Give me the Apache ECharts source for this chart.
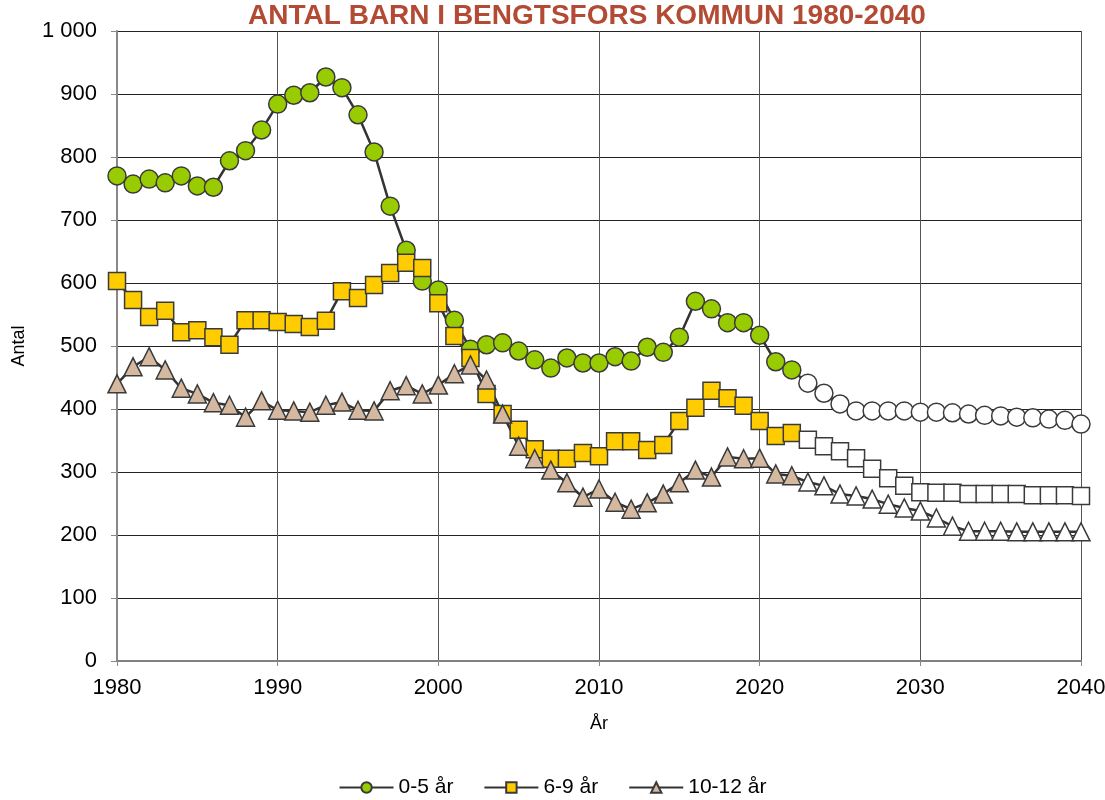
<!DOCTYPE html>
<html>
<head>
<meta charset="utf-8">
<script src="https://cdn.jsdelivr.net/npm/echarts@6/dist/echarts.min.js"></script>
<style>
  html, body { margin: 0; padding: 0; background: #fff; }
  #chart { width: 1105px; height: 800px; }
</style>
</head>
<body>
<div id="chart"></div>
<script>
  // år 1980-2040
  var years = [];
  for (var y = 1980; y <= 2040; y++) years.push(y);
  // första prognosår (ofyllda markörer)
  var prognosStart = 2023;

  var barn0_5 = [770, 757, 765, 759, 770, 754, 752, 794, 810, 843,
    884, 898, 902, 927, 910, 867, 808, 722, 652, 603,
    589, 541, 495, 502, 505, 492, 478, 465, 481, 473,
    473, 483, 476, 498, 490, 514, 571, 559, 537, 537,
    517, 475, 462, 441, 425, 408, 397, 397, 397, 397,
    395, 395, 394, 392, 390, 389, 387, 386, 384, 382, 376];

  var barn6_9 = [603, 573, 546, 556, 522, 525, 514, 502, 541, 541,
    538, 535, 530, 540, 587, 576, 597, 616, 632, 624,
    568, 516, 481, 424, 392, 367, 336, 321, 321, 330,
    325, 349, 349, 335, 343, 381, 402, 429, 417, 405,
    381, 357, 362, 351, 341, 333, 322, 305, 290, 278,
    268, 267, 267, 265, 265, 265, 265, 263, 263, 263, 262];

  var barn10_12 = [440, 467, 483, 462, 433, 424, 410, 406, 387, 413,
    398, 397, 395, 406, 411, 398, 397, 429, 437, 424,
    438, 456, 470, 446, 392, 341, 321, 303, 283, 260,
    273, 252, 241, 251, 265, 283, 303, 292, 324, 321,
    322, 297, 294, 284, 278, 265, 262, 257, 249, 243,
    238, 227, 214, 206, 206, 206, 205, 205, 205, 205, 205];

  var yTicks = [0, 100, 200, 300, 400, 500, 600, 700, 800, 900, 1000];

  function toPoints(values) {
    return values.map(function (v, i) {
      var p = { value: [years[i], v] };
      if (years[i] >= prognosStart) p.itemStyle = { color: '#ffffff' };
      return p;
    });
  }

  function makeSeries(name, values, symbol, size, color) {
    return {
      name: name,
      type: 'line',
      symbol: symbol,
      symbolSize: size,
      showAllSymbol: true,
      lineStyle: { color: '#333333', width: 2.5 },
      itemStyle: { color: color, borderColor: '#3a3a3a', borderWidth: 1.5 },
      emphasis: { disabled: true },
      data: toPoints(values)
    };
  }

  var chart = echarts.init(document.getElementById('chart'));
  chart.setOption({
    animation: false,
    title: {
      text: 'ANTAL BARN I BENGTSFORS KOMMUN 1980-2040',
      left: 582,
      textAlign: 'center',
      top: -3,
      textStyle: {
        fontFamily: 'Liberation Sans Narrow, Liberation Sans, sans-serif',
        fontWeight: 'bold',
        fontSize: 28,
        color: '#b24a34'
      }
    },
    grid: { left: 117, right: 24, top: 31, bottom: 139, outerBoundsMode: 'none' },
    legend: {
      bottom: -3,
      left: 'center',
      itemWidth: 54,
      itemHeight: 13,
      itemGap: 30,
      textStyle: { fontFamily: 'Liberation Sans, sans-serif', fontSize: 21, color: '#000' },
      data: ['0-5 år', '6-9 år', '10-12 år']
    },
    xAxis: {
      type: 'value',
      min: 1980,
      max: 2040,
      interval: 10,
      name: 'År',
      nameLocation: 'middle',
      nameGap: 54,
      nameTextStyle: { fontFamily: 'Liberation Sans, sans-serif', fontSize: 18, color: '#000' },
      axisLine: { show: true, lineStyle: { color: '#808080', width: 2 } },
      axisTick: { show: true, length: 5, lineStyle: { color: '#888' } },
      axisLabel: {
        fontFamily: 'Liberation Sans, sans-serif',
        fontSize: 22,
        color: '#000',
        margin: 16,
        formatter: function (v) { return String(v); }
      },
      splitLine: { show: true, lineStyle: { color: '#555', width: 1 } }
    },
    yAxis: {
      type: 'value',
      min: yTicks[0],
      max: yTicks[yTicks.length - 1],
      interval: 100,
      name: 'Antal',
      nameLocation: 'middle',
      nameGap: 89,
      nameRotate: 90,
      nameTextStyle: { fontFamily: 'Liberation Sans, sans-serif', fontSize: 18, color: '#000' },
      axisLine: { show: true, lineStyle: { color: '#888', width: 2 } },
      axisTick: { show: true, length: 6, lineStyle: { color: '#888' } },
      axisLabel: {
        fontFamily: 'Liberation Sans, sans-serif',
        fontSize: 22,
        color: '#000',
        margin: 20,
        formatter: function (v) { return v >= 1000 ? '1 000' : String(v); }
      },
      splitLine: { show: true, lineStyle: { color: '#222', width: 1 } }
    },
    series: [
      makeSeries('0-5 år', barn0_5, 'circle', 18, '#99cc00'),
      makeSeries('6-9 år', barn6_9, 'rect', 17, '#ffcc00'),
      makeSeries('10-12 år', barn10_12, 'triangle', 18, '#d5b8a0')
    ]
  });
</script>
</body>
</html>
